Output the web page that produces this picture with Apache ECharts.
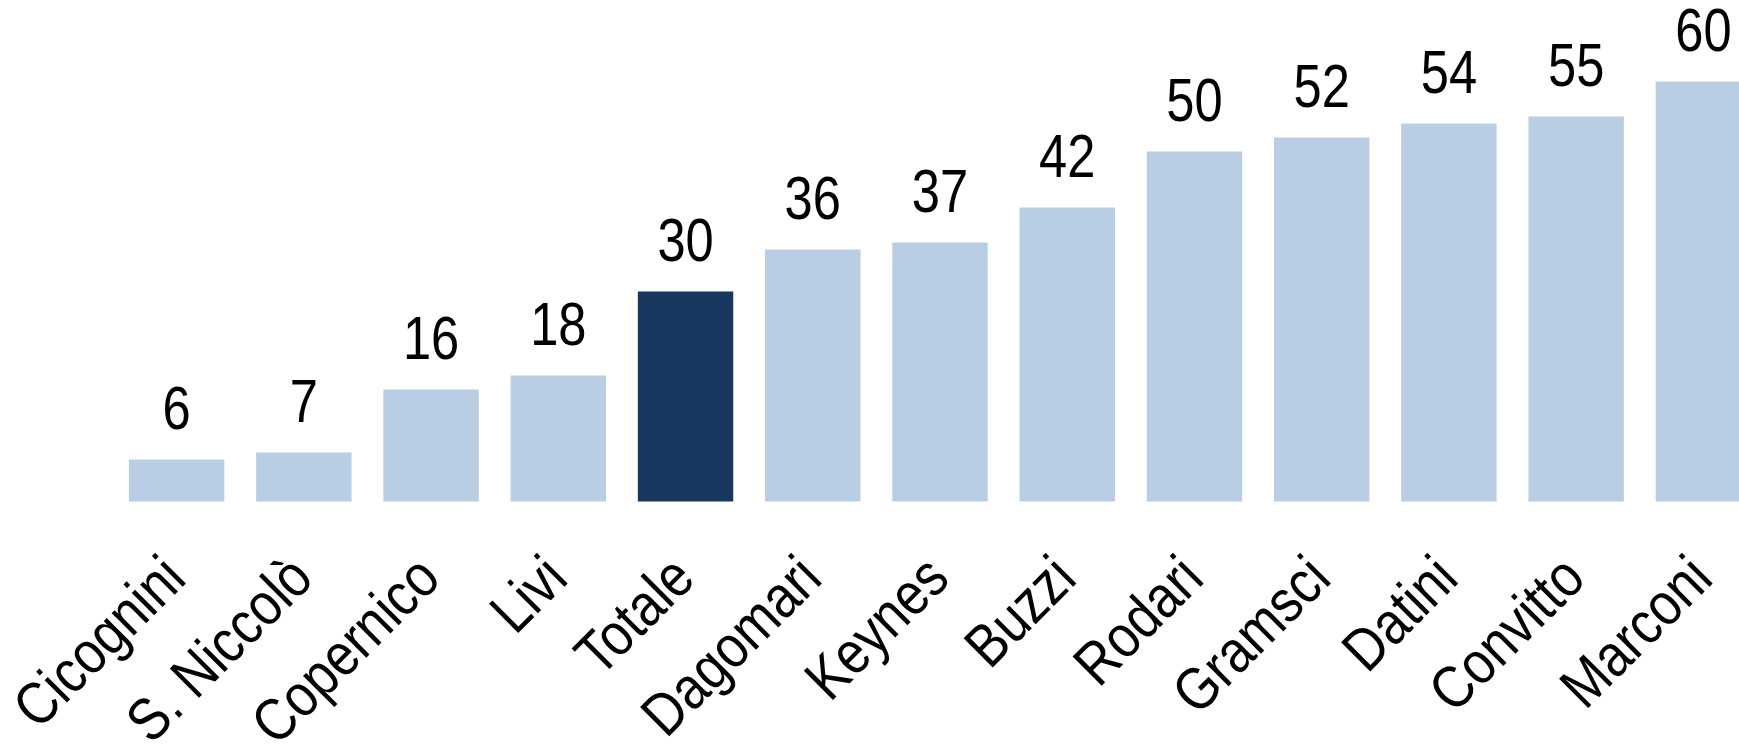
<!DOCTYPE html>
<html>
<head>
<meta charset="utf-8">
<style>html,body{margin:0;padding:0;background:#fff;}#c{width:1739px;height:744px;}</style>
<script src="https://cdn.jsdelivr.net/npm/echarts@6/dist/echarts.min.js"></script>
</head>
<body>
<div id="c"></div>
<script>
const categories = ['Cicognini','S. Niccolò','Copernico','Livi','Totale','Dagomari','Keynes','Buzzi','Rodari','Gramsci','Datini','Convitto','Marconi'];
const values = [6,7,16,18,30,36,37,42,50,52,54,55,60];
const highlight = 'Totale';

const VALUE_NARROW = 0.83;      // horizontal squeeze to imitate Arial Narrow
const CAT_NARROW = 0.86;
const VALUE_FONT = "61px 'Liberation Sans', Arial, sans-serif";
const CAT_FONT = "60px 'Liberation Sans', Arial, sans-serif";

const chart = echarts.init(document.getElementById('c'));
chart.setOption({
  animation: false,
  grid: {left: 113, width: 1654, top: 81.5, height: 420, containLabel: false, outerBoundsMode: 'none'},
  xAxis: {
    type: 'category', data: categories,
    axisLine: {show: false}, axisTick: {show: false}, axisLabel: {show: false}
  },
  yAxis: {type: 'value', min: 0, max: 60, show: false, splitLine: {show: false}},
  series: [{
    type: 'bar', barCategoryGap: '25%',
    data: categories.map((c, i) => ({value: values[i], itemStyle: {color: c === highlight ? '#17375E' : '#B9CDE5'}})),
    label: {show: false}
  }, {
    type: 'custom', clip: false, silent: true,
    data: values.map((v, i) => [i, v]),
    encode: {x: 0, y: 1},
    renderItem: function (params, api) {
      const i = api.value(0), v = api.value(1);
      const top = api.coord([i, v]);
      const base = api.coord([i, 0]);
      return {
        type: 'group',
        children: [{
          type: 'text',
          x: top[0], y: top[1] - 47, scaleX: VALUE_NARROW,
          style: {text: String(v), font: VALUE_FONT, fill: '#000',
                  align: 'center', verticalAlign: 'middle', textAlign: 'center', textVerticalAlign: 'middle'}
        }, {
          type: 'text',
          x: base[0], y: base[1] + 68, scaleX: CAT_NARROW, rotation: Math.PI / 4,
          style: {text: categories[i], font: CAT_FONT, fill: '#000',
                  align: 'right', verticalAlign: 'middle', textAlign: 'right', textVerticalAlign: 'middle'}
        }]
      };
    }
  }]
});
</script>
</body>
</html>
